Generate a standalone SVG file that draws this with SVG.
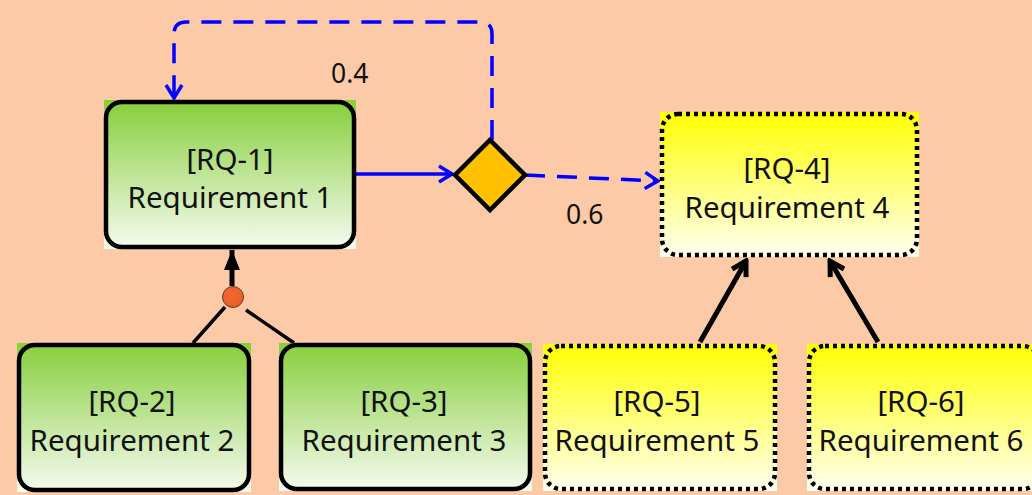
<svg xmlns="http://www.w3.org/2000/svg" width="1032" height="495" viewBox="0 0 1032 495">
<style>
  .lbl { font-family: "Noto Sans", "Open Sans", sans-serif; font-size: 29.5px; fill: #111; text-anchor: middle; }
  .num { font-family: "Noto Sans", "Open Sans", sans-serif; font-size: 26.5px; fill: #111; }
  .solidbox { fill: none; stroke: #000; stroke-width: 4.5; }
  .dotbox { fill: none; stroke: #000; stroke-width: 4.5; stroke-dasharray: 4 4; }
  .blue { fill: none; stroke: #0000FF; stroke-width: 3.5; }
  .bluedash { fill: none; stroke: #0000FF; stroke-width: 3.5; stroke-dasharray: 20 12; }
  .blk { fill: none; stroke: #000; stroke-width: 5; }
  .thin { fill: none; stroke: #000; stroke-width: 3.5; }
</style>
<defs>
  <linearGradient id="gGreen" x1="0" y1="0" x2="0" y2="1">
    <stop offset="0" stop-color="#87CE3B"/>
    <stop offset="1" stop-color="#F6FBF1"/>
  </linearGradient>
  <linearGradient id="gYellow" x1="0" y1="0" x2="0" y2="1">
    <stop offset="0" stop-color="#FFFF00"/>
    <stop offset="1" stop-color="#FFFFF2"/>
  </linearGradient>
  <radialGradient id="gDot" cx="0.4" cy="0.35" r="0.7">
    <stop offset="0" stop-color="#F06A32"/>
    <stop offset="1" stop-color="#E85C24"/>
  </radialGradient>
  <marker id="aBlue" viewBox="-16 -11 19 22" markerWidth="19" markerHeight="22" refX="0" refY="0" orient="auto" markerUnits="userSpaceOnUse">
    <path d="M -13 -8 L 0 0 L -13 8" fill="none" stroke="#0000FF" stroke-width="3.5" stroke-dasharray="none"/>
  </marker>
  <marker id="aBlack" viewBox="-18 -12 21 24" markerWidth="21" markerHeight="24" refX="0" refY="0" orient="auto" markerUnits="userSpaceOnUse">
    <path d="M -14 -8 L 0 0 L -14 8" fill="none" stroke="#000" stroke-width="5"/>
  </marker>
  <marker id="aFill" viewBox="-22 -10 24 20" markerWidth="24" markerHeight="20" refX="0" refY="0" orient="auto" markerUnits="userSpaceOnUse">
    <path d="M -20 -8 L 0 0 L -20 8 Z" fill="#000"/>
  </marker>
</defs>
<rect width="1032" height="495" fill="#FDCAA8"/>

<g id="connectors">
  <path class="bluedash" d="M 492 140 L 492 34 Q 492 22 480 22 L 186 22 Q 174 22 174 34 L 174 98" marker-end="url(#aBlue)"/>
  <path class="blue" d="M 356 174 L 452 174" marker-end="url(#aBlue)"/>
  <path class="bluedash" d="M 525 175 L 658 181" marker-end="url(#aBlue)"/>
  <path class="thin" d="M 225 307 L 193 343"/>
  <path class="thin" d="M 246 310 L 294 343"/>
  <path class="blk" d="M 232 286 L 232 250" marker-end="url(#aFill)"/>
  <path class="blk" d="M 700 342 L 746 261" marker-end="url(#aBlack)"/>
  <path class="blk" d="M 878 342 L 830 261" marker-end="url(#aBlack)"/>
  <text class="num" x="331" y="83">0.4</text>
  <text class="num" x="566" y="224">0.6</text>
</g>

<g id="junction">
  <circle cx="233" cy="297" r="10.5" fill="url(#gDot)" stroke="#6B3A22" stroke-width="1"/>
</g>

<g id="diamond">
  <path d="M 490 140 L 525 175 L 490 210 L 455 175 Z" fill="#FFC000" stroke="#000" stroke-width="4.5"/>
</g>

<g id="rq1">
  <rect x="104" y="100" width="252" height="149" fill="url(#gGreen)"/>
  <rect class="solidbox" x="106" y="102" width="248" height="145" rx="16"/>
  <text class="lbl" x="230" y="170">[RQ-1]</text>
  <text class="lbl" x="230" y="208">Requirement 1</text>
</g>

<g id="rq2">
  <rect x="17" y="343" width="234" height="149" fill="url(#gGreen)"/>
  <rect class="solidbox" x="19" y="345" width="230" height="145" rx="16"/>
  <text class="lbl" x="132" y="412">[RQ-2]</text>
  <text class="lbl" x="132" y="451">Requirement 2</text>
</g>

<g id="rq3">
  <rect x="279" y="343" width="253" height="148" fill="url(#gGreen)"/>
  <rect class="solidbox" x="281" y="345" width="249" height="144" rx="16"/>
  <text class="lbl" x="404" y="412">[RQ-3]</text>
  <text class="lbl" x="404" y="451">Requirement 3</text>
</g>

<g id="rq4">
  <rect x="660" y="112" width="259" height="145" fill="url(#gYellow)"/>
  <rect class="dotbox" x="662" y="114" width="255" height="141" rx="16"/>
  <text class="lbl" x="787" y="179">[RQ-4]</text>
  <text class="lbl" x="787" y="218">Requirement 4</text>
</g>

<g id="rq5">
  <rect x="543" y="344" width="234" height="147" fill="url(#gYellow)"/>
  <rect class="dotbox" x="545" y="346" width="230" height="143" rx="16"/>
  <text class="lbl" x="657" y="412">[RQ-5]</text>
  <text class="lbl" x="657" y="451">Requirement 5</text>
</g>

<g id="rq6">
  <rect x="807" y="344" width="234" height="147" fill="url(#gYellow)"/>
  <rect class="dotbox" x="809" y="346" width="230" height="143" rx="16"/>
  <text class="lbl" x="921" y="412">[RQ-6]</text>
  <text class="lbl" x="921" y="451">Requirement 6</text>
</g>
</svg>
